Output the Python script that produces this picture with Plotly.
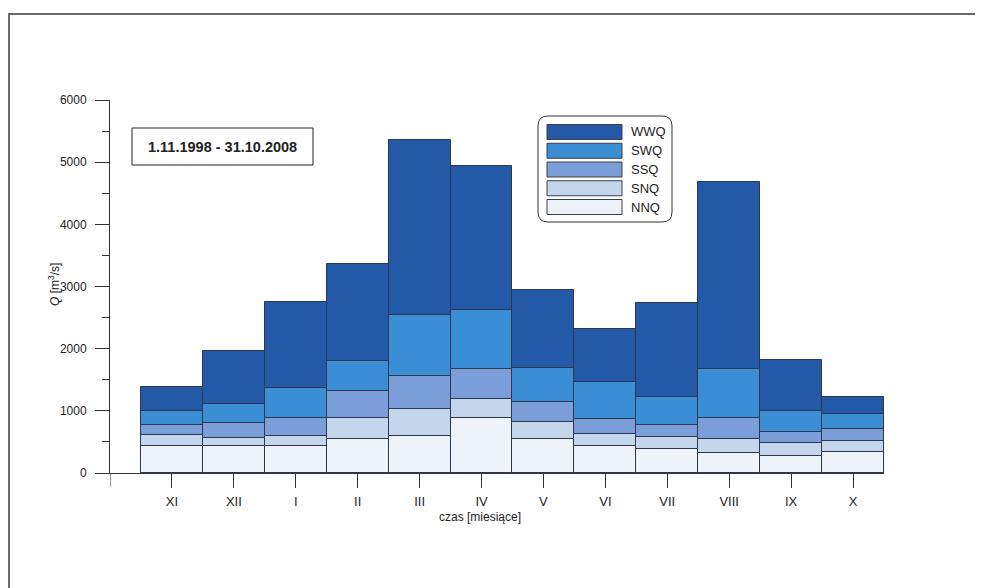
import plotly.graph_objects as go

months = ['XI', 'XII', 'I', 'II', 'III', 'IV', 'V', 'VI', 'VII', 'VIII', 'IX', 'X']
WWQ = [1390, 1960, 2750, 3360, 5350, 4940, 2950, 2310, 2740, 4680, 1820, 1220]
SWQ = [990, 1115, 1370, 1800, 2540, 2630, 1690, 1460, 1220, 1680, 1000, 950]
SSQ = [780, 805, 880, 1315, 1560, 1665, 1135, 875, 765, 885, 655, 700]
SNQ = [605, 565, 590, 880, 1025, 1185, 825, 620, 575, 555, 480, 520]
NNQ = [440, 435, 430, 540, 600, 890, 540, 440, 380, 325, 275, 330]

series = [('WWQ', WWQ, '#2459a8'), ('SWQ', SWQ, '#3b8dd4'), ('SSQ', SSQ, '#7b9ed8'),
          ('SNQ', SNQ, '#c4d6ec'), ('NNQ', NNQ, '#eef3f9')]

# the page body adds an 8px offset; work in page pixels and shift
OFF = 8
W, H = 983 - OFF, 588 - OFF
L, R, T, B = 110 - OFF, 884 - OFF, 100 - OFF, 473 - OFF
FONT = 'Liberation Sans, Arial, sans-serif'


def px(x):
    return (x - OFF - L) / (R - L)


def py(y):
    return (B - (y - OFF)) / (B - T)


xs = list(range(len(months)))
fig = go.Figure()
for name, vals, col in series:
    fig.add_trace(go.Bar(x=xs, y=vals, name=name, width=1.0,
                         marker=dict(color=col, line=dict(color='#2b3850', width=1)),
                         showlegend=False))

shapes = []
annotations = []
# outer frame (top and left)
shapes.append(dict(type='line', xref='paper', yref='paper', x0=px(8), x1=px(983), y0=py(14), y1=py(14),
                   line=dict(color='#6a6a6a', width=2)))
shapes.append(dict(type='line', xref='paper', yref='paper', x0=px(9), x1=px(9), y0=py(14), y1=py(588),
                   line=dict(color='#6a6a6a', width=2)))
# y axis line continuing below the x axis (tick at the axis origin)
shapes.append(dict(type='line', xref='x', yref='paper', x0=-1, x1=-1, y0=0, y1=py(487),
                   line=dict(color='#333', width=1)))
# date box
shapes.append(dict(type='rect', xref='paper', yref='paper', x0=px(132), x1=px(313), y0=py(128), y1=py(165),
                   line=dict(color='#222', width=1), fillcolor='white'))
annotations.append(dict(xref='paper', yref='paper', x=px(222.5), y=py(147), text='<b>1.11.1998 - 31.10.2008</b>',
                        showarrow=False, font=dict(family=FONT, size=14.5, color='#222'),
                        xanchor='center', yanchor='middle'))
# legend box with rounded corners
x0, x1, y0, y1, r = 538, 672, 116, 222, 10


def P(x, y):
    return f'{px(x):.5f},{py(y):.5f}'


path = (f'M {P(x0 + r, y0)} L {P(x1 - r, y0)} Q {P(x1, y0)} {P(x1, y0 + r)} '
        f'L {P(x1, y1 - r)} Q {P(x1, y1)} {P(x1 - r, y1)} '
        f'L {P(x0 + r, y1)} Q {P(x0, y1)} {P(x0, y1 - r)} '
        f'L {P(x0, y0 + r)} Q {P(x0, y0)} {P(x0 + r, y0)} Z')
shapes.append(dict(type='path', xref='paper', yref='paper', path=path,
                   line=dict(color='#333', width=1), fillcolor='white'))
for i, (name, vals, col) in enumerate(series):
    cy = 132 + 18.75 * i
    shapes.append(dict(type='rect', xref='paper', yref='paper', x0=px(547), x1=px(622),
                       y0=py(cy - 7.5), y1=py(cy + 7.5), fillcolor=col,
                       line=dict(color='#3a3f4a', width=1)))
    annotations.append(dict(xref='paper', yref='paper', x=px(629), y=py(cy), text=name, showarrow=False,
                            font=dict(family=FONT, size=13, color='#222'), xanchor='left', yanchor='middle'))
# axis titles
annotations.append(dict(xref='paper', yref='paper', x=px(480), y=py(517), text='czas [miesiące]', showarrow=False,
                        font=dict(family=FONT, size=12, color='#222'), xanchor='center', yanchor='middle'))
annotations.append(dict(xref='paper', yref='paper', x=px(54), y=py(285), text='<i>Q</i> [m<sup>3</sup>/s]',
                        showarrow=False, textangle=-90,
                        font=dict(family=FONT, size=12, color='#222'), xanchor='center', yanchor='middle'))

fig.update_layout(
    width=W, height=H, barmode='overlay', bargap=0,
    margin=dict(l=L, r=W - R, t=T, b=H - B, pad=0),
    paper_bgcolor='white', plot_bgcolor='white',
    font=dict(family=FONT, size=12, color='#222'),
    shapes=shapes, annotations=annotations,
    xaxis=dict(range=[-1, 11.5], tickvals=xs, ticktext=months,
               showline=True, linecolor='#333', linewidth=1, ticks='outside', ticklen=14,
               tickcolor='#333', tickwidth=1, showgrid=False, zeroline=False, automargin=False,
               tickfont=dict(family=FONT, size=13, color='#222'), ticklabelstandoff=2),
    yaxis=dict(range=[0, 6000], tickvals=[0, 1000, 2000, 3000, 4000, 5000, 6000],
               showline=True, linecolor='#333', linewidth=1, ticks='outside', ticklen=14,
               tickcolor='#333', tickwidth=1, showgrid=False, zeroline=False, automargin=False,
               minor=dict(dtick=500, ticks='outside', ticklen=7, tickcolor='#333', tickwidth=1, showgrid=False),
               tickfont=dict(family=FONT, size=12, color='#222'), ticklabelstandoff=6),
)

fig.write_html('out.html')
